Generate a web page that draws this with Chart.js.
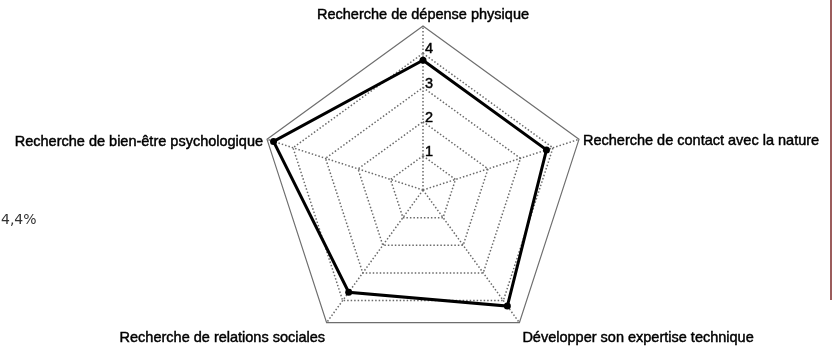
<!DOCTYPE html>
<html>
<head>
<meta charset="utf-8">
<script src="https://cdn.jsdelivr.net/npm/chart.js@4"></script>
<style>
  html, body { margin: 0; padding: 0; background: #fff; overflow: hidden; width: 833px; height: 346px; }
  #wrap { position: absolute; left: 0; top: 0; width: 833px; height: 380px; }
  #pct { position: absolute; left: 1px; top: 211px; font: 14px "DejaVu Sans", sans-serif; color: #333; }
  #edge { position: absolute; left: 830px; top: 0; width: 2px; height: 300px; background: #9c5c5c; }
</style>
</head>
<body>
<div id="wrap"><canvas id="c"></canvas></div>
<div id="pct">4,4%</div>
<div id="edge"></div>
<script>
const categories = [
  "Recherche de dépense physique",
  "Recherche de contact avec la nature",
  "Développer son expertise technique",
  "Recherche de relations sociales",
  "Recherche de bien-être psychologique"
];
const seriesValues = [3.8, 3.8, 4.2, 3.7, 4.6];
const tickValues = [1, 2, 3, 4];
const axisMin = 0;
const axisMax = 4.8;

const FONT = '14.5px "Liberation Sans", Arial, sans-serif';

const labelPlugin = {
  id: 'labels',
  afterDraw(chart) {
    const s = chart.scales.r;
    const ctx = chart.ctx;
    ctx.save();
    ctx.font = FONT;
    ctx.fillStyle = '#000';
    ctx.strokeStyle = '#000';
    ctx.lineWidth = 0.45;
    ctx.textBaseline = 'alphabetic';
    const put = (t, x, y) => { ctx.fillText(t, x, y); ctx.strokeText(t, x, y); };
    // tick labels
    ctx.textAlign = 'left';
    tickValues.forEach(v => {
      const d = s.getDistanceFromCenterForValue(v);
      put(String(v), s.xCenter + 2, s.yCenter - d);
    });
    // point labels
    const offs = [
      {a: 'center', dx: 0, dy: -7},
      {a: 'left', dx: 4, dy: 6},
      {a: 'left', dx: 3, dy: 19},
      {a: 'right', dx: -1.5, dy: 19},
      {a: 'right', dx: -4, dy: 6.5}
    ];
    categories.forEach((lab, i) => {
      const p = s.getPointPosition(i, s.drawingArea);
      const o = offs[i];
      ctx.textAlign = o.a;
      put(lab, p.x + o.dx, p.y + o.dy);
    });
    ctx.restore();
  }
};

new Chart(document.getElementById('c'), {
  type: 'radar',
  data: {
    labels: categories,
    datasets: [{
      data: seriesValues,
      borderColor: '#000',
      borderWidth: 3,
      backgroundColor: 'rgba(0,0,0,0)',
      fill: false,
      pointRadius: 3.5,
      pointBackgroundColor: '#000',
      pointBorderColor: '#000',
      pointBorderWidth: 0,
      tension: 0
    }]
  },
  options: {
    responsive: true,
    maintainAspectRatio: false,
    animation: false,
    layout: { padding: { left: 100, right: 87, top: 26, bottom: 26 } },
    plugins: { legend: { display: false }, tooltip: { enabled: false } },
    scales: {
      r: {
        min: axisMin,
        max: axisMax,
        afterBuildTicks: (scale) => {
          scale.ticks = [axisMin].concat(tickValues, [axisMax]).map(v => ({ value: v }));
        },
        ticks: { display: false },
        pointLabels: { display: false },
        grid: {
          color: (c) => (c.tick && c.tick.value === axisMax) ? '#6e6e6e' : '#6a6a6a',
          lineWidth: (c) => (c.tick && c.tick.value === axisMax) ? 1.2 : 1.5
        },
        border: {
          dash: (c) => (c.tick && c.tick.value === axisMax) ? [] : [1.5, 2]
        },
        angleLines: { color: '#6a6a6a', lineWidth: 1.5, borderDash: [1.5, 2] }
      }
    }
  },
  plugins: [labelPlugin]
});
</script>
</body>
</html>
